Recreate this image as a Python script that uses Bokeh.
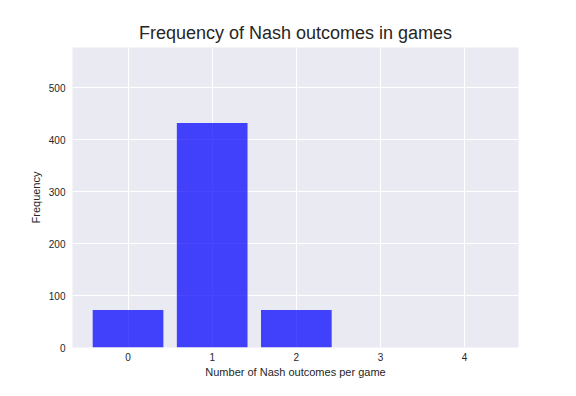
from bokeh.plotting import figure
from bokeh.models import Range1d, FixedTicker
from bokeh.embed import file_html
from bokeh.resources import INLINE

outcomes = [0, 1, 2, 3, 4]
counts = [72, 432, 72, 0, 0]
y_ticks = [0, 100, 200, 300, 400, 500]

p = figure(width=560, height=380, output_backend="svg", toolbar_location=None,
           x_range=Range1d(-0.66, 4.64), y_range=Range1d(0, 577.5),
           min_border_left=72, min_border_right=42, min_border_top=47, min_border_bottom=33)

p.title.text = "Frequency of Nash outcomes in games"
p.title.align = "center"
p.title.text_font = "Liberation Sans"
p.title.text_font_size = "18px"
p.title.text_font_style = "normal"
p.title.text_color = "#262626"

p.background_fill_color = "#EAEAF2"
p.border_fill_color = "white"
p.outline_line_color = None

p.vbar(x=outcomes, top=counts, width=0.84, bottom=0, fill_color="blue", fill_alpha=0.72, line_color=None)

for ax in (p.xaxis, p.yaxis):
    ax.axis_line_color = None
    ax.major_tick_line_color = None
    ax.minor_tick_line_color = None
    ax.major_tick_out = 0
    ax.major_tick_in = 0
    ax.minor_tick_out = 0
    ax.major_label_text_font = "Liberation Sans"
    ax.major_label_text_font_size = "10px"
    ax.major_label_text_color = "#262626"
    ax.axis_label_text_font = "Liberation Sans"
    ax.axis_label_text_font_size = "11px"
    ax.axis_label_text_font_style = "normal"
    ax.axis_label_text_color = "#262626"

p.xaxis.ticker = FixedTicker(ticks=outcomes)
p.yaxis.ticker = FixedTicker(ticks=y_ticks)
p.xaxis.axis_label = "Number of Nash outcomes per game"
p.yaxis.axis_label = "Frequency"
p.xaxis.major_label_standoff = 5
p.yaxis.major_label_standoff = 7
p.xaxis.axis_label_standoff = 2
p.yaxis.axis_label_standoff = 4

p.grid.grid_line_color = "white"
p.grid.grid_line_width = 1

open("out.html", "w").write(file_html(p, INLINE))
